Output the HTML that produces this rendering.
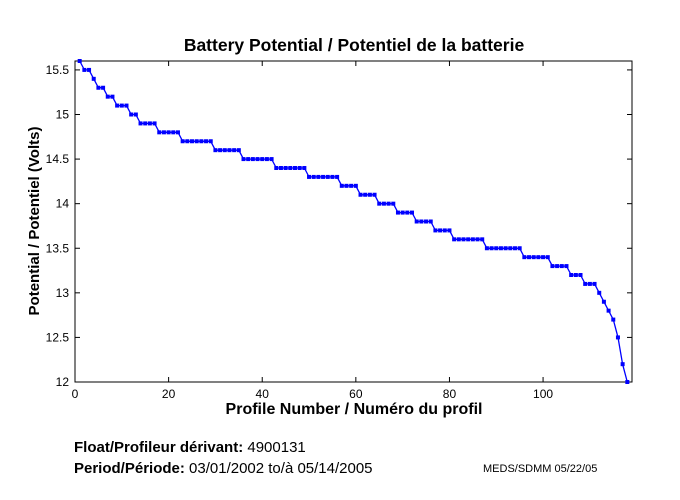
<!DOCTYPE html>
<html><head><meta charset="utf-8"><style>
html,body{margin:0;padding:0;background:#fff;}
svg{display:block;font-family:"Liberation Sans",sans-serif;}
</style></head><body>
<svg id="s" width="680" height="500" xmlns="http://www.w3.org/2000/svg" xml:space="preserve">
<rect width="680" height="500" fill="#fff"/>
<rect x="75" y="61" width="557" height="321" fill="none" stroke="#000" stroke-width="1"/>
<g id="ticks" stroke="#000" stroke-width="1"></g>
<g id="labels" font-size="12" fill="#000"></g>
<text x="354" y="51" font-size="17.5" font-weight="bold" text-anchor="middle">Battery Potential / Potentiel de la batterie</text>
<text x="354" y="414" font-size="16" font-weight="bold" text-anchor="middle">Profile Number / Numéro du profil</text>
<text x="0" y="0" font-size="15" font-weight="bold" text-anchor="middle" transform="translate(39,221) rotate(-90)">Potential / Potentiel (Volts)</text>
<g id="data"></g>
<text x="74" y="452" font-size="15"><tspan font-weight="bold">Float/Profileur dérivant:</tspan> 4900131</text>
<text x="74" y="473" font-size="15"><tspan font-weight="bold">Period/Période:</tspan>  03/01/2002   to/à   05/14/2005</text>
<text x="483" y="472" font-size="11">MEDS/SDMM  05/22/05</text>
</svg>
<script>
var NS="http://www.w3.org/2000/svg";
function X(v){return 75+v*(557/119);}
function Y(v){return 382-(v-12)*(321/3.6);}
function el(t,a,p){var e=document.createElementNS(NS,t);for(var k in a)e.setAttribute(k,a[k]);document.getElementById(p).appendChild(e);return e;}
[0,20,40,60,80,100].forEach(function(v){var x=X(v);
el("line",{x1:x,y1:382,x2:x,y2:377},"ticks");el("line",{x1:x,y1:61,x2:x,y2:66},"ticks");
var t=el("text",{x:x,y:398,"text-anchor":"middle"},"labels");t.textContent=v;});
["12","12.5","13","13.5","14","14.5","15","15.5"].forEach(function(s){var y=Y(parseFloat(s));
el("line",{x1:75,y1:y,x2:80,y2:y},"ticks");el("line",{x1:632,y1:y,x2:627,y2:y},"ticks");
var t=el("text",{x:69,y:y+4,"text-anchor":"end"},"labels");t.textContent=s;});
var segs=[[1,1,15.6],[2,3,15.5],[4,4,15.4],[5,6,15.3],[7,8,15.2],[9,11,15.1],[12,13,15.0],[14,17,14.9],[18,22,14.8],[23,29,14.7],[30,35,14.6],[36,42,14.5],[43,49,14.4],[50,56,14.3],[57,60,14.2],[61,64,14.1],[65,68,14.0],[69,72,13.9],[73,76,13.8],[77,80,13.7],[81,87,13.6],[88,95,13.5],[96,101,13.4],[102,105,13.3],[106,108,13.2],[109,111,13.1],[112,112,13.0],[113,113,12.9],[114,114,12.8],[115,115,12.7],[116,116,12.5],[117,117,12.2],[118,118,12.0]];
var pts=[];segs.forEach(function(s){for(var i=s[0];i<=s[1];i++)pts.push([X(i),Y(s[2])]);});
el("polyline",{points:pts.map(function(p){return p[0].toFixed(1)+","+p[1].toFixed(1)}).join(" "),fill:"none",stroke:"#0000ff","stroke-width":1.3},"data");
pts.forEach(function(p){el("rect",{x:p[0]-2,y:p[1]-2,width:4,height:4,fill:"#0000ff"},"data");});
</script>
</body></html>
